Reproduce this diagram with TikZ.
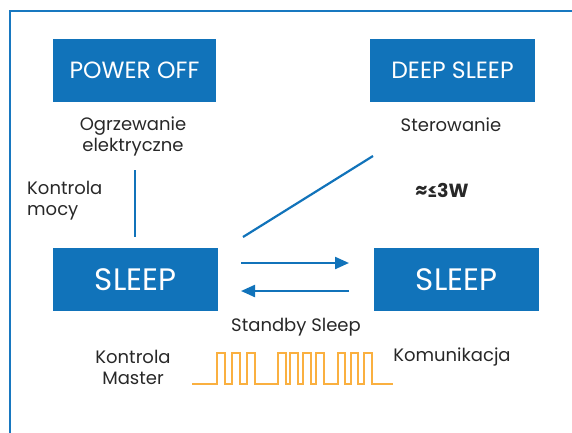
\documentclass[tikz,border=0pt]{standalone}
\usepackage{fontspec}
\setmainfont{Poppins}
\usetikzlibrary{arrows.meta}
\definecolor{boxblue}{RGB}{17,115,186}
\definecolor{framblue}{RGB}{24,120,192}
\definecolor{sigorange}{RGB}{250,176,64}
\definecolor{txtgray}{RGB}{40,40,40}
\tikzset{
  bluebox/.style={fill=boxblue, text=white, inner sep=0pt, minimum height=63pt},
  lbl/.style={text=txtgray, font=\fontsize{18}{21}\selectfont, align=center, inner sep=0pt},
  conn/.style={draw=boxblue, line width=2.2pt},
  arr/.style={conn, -{Triangle[length=14pt,width=12pt]}},
  sig/.style={draw=sigorange, line width=2.2pt, line join=miter}
}
\begin{document}
\begin{tikzpicture}[x=1pt,y=-1pt]
\useasboundingbox (0,0) rectangle (572,432);
% frame
\draw[framblue, line width=2.5pt] (10,440) -- (10,11) -- (580,11);
% boxes
\node[bluebox, minimum width=163pt, font=\fontsize{23.5}{26}\selectfont] (poweroff) at (134.5,70.5) {POWER OFF};
\node[bluebox, minimum width=165pt, font=\fontsize{23.5}{26}\selectfont] (deepsleep) at (452.5,70.5) {DEEP SLEEP};
\node[bluebox, minimum width=165pt, font=\fontsize{31}{34}\selectfont] (sleepl) at (135.5,279.5) {SLEEP};
\node[bluebox, minimum width=165pt, font=\fontsize{31}{34}\selectfont] (sleepr) at (456.5,279.5) {SLEEP};
% labels
\node[lbl] (ogrz) at (133,136) {Ogrzewanie\\elektryczne};
\node[lbl] (ster) at (451,125) {Sterowanie};
\node[lbl, align=left, anchor=west] (kmocy) at (27,201) {Kontrola\\mocy};
\node[lbl, font=\bfseries\fontsize{19}{22}\selectfont] (watt) at (442,190) {≈≤3W};
\node[lbl] (standby) at (296,327) {Standby Sleep};
\node[lbl] (kmaster) at (133,367) {Kontrola\\Master};
\node[lbl] (komun) at (452,357) {Komunikacja};
% connectors
\coordinate (v1) at (135,170);
\coordinate (v2) at (135,237);
\draw[conn] (v1) -- (v2);
\coordinate (d1) at (243,237);
\coordinate (d2) at (373,156);
\draw[conn] (d1) -- (d2);
\coordinate (a1) at (241,263);
\coordinate (a2) at (349,263);
\draw[arr] (a1) -- (a2);
\coordinate (b1) at (349,291);
\coordinate (b2) at (241,291);
\draw[arr] (b1) -- (b2);
% signal
\draw[sig] (192,384) -- (217,384)
  \foreach \a/\b in {217/225,232/240,247/255,278/286,290/298,303/311,316/324,338/345,351/358,364/372}{
    -- (\a,384) -- (\a,353) -- (\b,353) -- (\b,384)}
  -- (393,384);
\end{tikzpicture}
\end{document}
